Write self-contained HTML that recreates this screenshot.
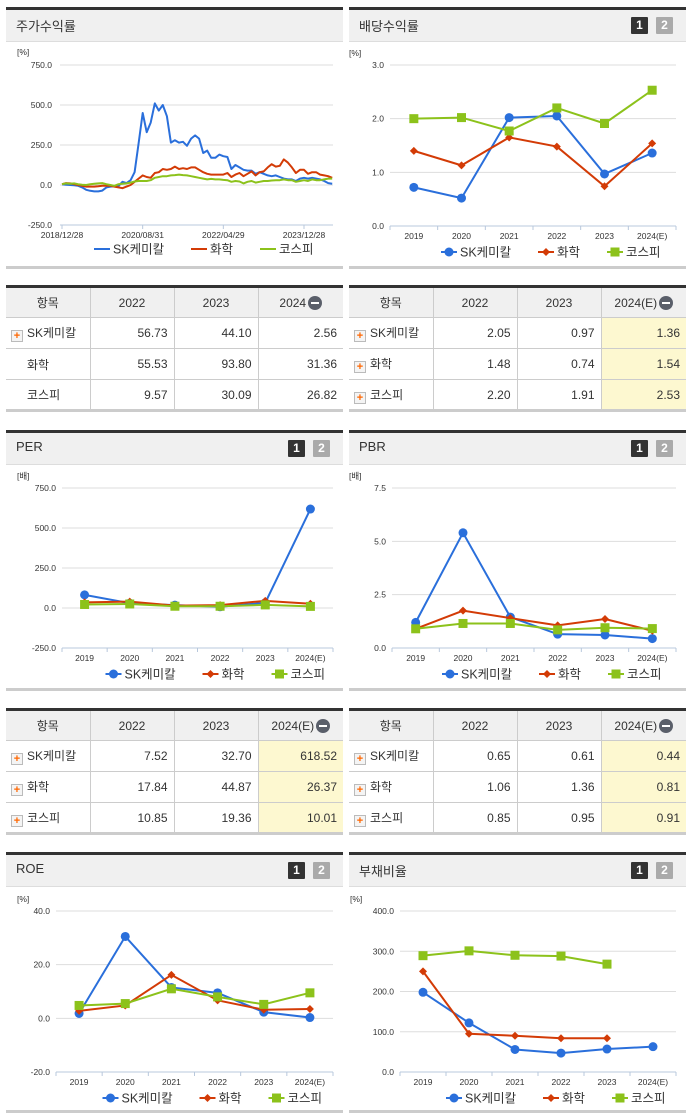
<!DOCTYPE html>
<html><head><meta charset="utf-8">
<style>
*{box-sizing:border-box;margin:0;padding:0}
body{width:691px;height:1115px;background:#fff;position:relative;overflow:hidden;font-family:"Liberation Sans","Noto Sans CJK KR","NanumGothic",sans-serif;color:#333}
.panel{position:absolute;border-top:3px solid #333;border-bottom:3px solid #ccc}
.phead{position:absolute;left:0;right:0;top:0;height:32px;background:#f0f0f0;border-bottom:1px solid #ddd}
.ptitle{position:absolute;left:10px;top:6px;font-size:13px;color:#333}
.btn{position:absolute;top:7px;width:17px;height:17px;font-size:12px;font-weight:bold;color:#fff;text-align:center;line-height:17px;border-radius:1px}
.b1{background:#333}.b2{background:#aaa}
table{position:absolute;border-collapse:collapse;font-size:12px;border-top:3px solid #333;border-bottom:3px solid #ccc;table-layout:fixed}
td,th{border:1px solid #ccc;height:31px;font-weight:normal}
th{background:#f0f0f0;text-align:center}
td{text-align:right;padding-right:6px}
td.l{text-align:left;padding-left:5px}
tr>*:first-child{border-left:none}tr>*:last-child{border-right:none}
.y{background:#fdf8d0}
.pl{display:inline-block;width:12px;height:12px;border:1px solid #bbb;background:#f4f4f4;color:#f60;font-size:11px;line-height:10px;text-align:center;font-weight:bold;vertical-align:-2px;margin-right:4px}
.sp{display:inline-block;width:16px}
.mn{display:inline-block;width:14px;height:14px;border-radius:7px;background:#5a5f6a;vertical-align:-3px;position:relative;margin-left:2px}
.mn:after{content:"";position:absolute;left:3px;top:6px;width:8px;height:2px;background:#fff}
svg{position:absolute;left:0;top:0}
</style></head><body>

<div class="panel" style="left:6px;top:7px;width:337px;height:262px"><div class="phead"><span class="ptitle">주가수익률</span></div></div>
<div class="panel" style="left:349px;top:7px;width:337px;height:262px"><div class="phead"><span class="ptitle">배당수익률</span><span class="btn b1" style="left:282px">1</span><span class="btn b2" style="left:307px">2</span></div></div>
<div class="panel" style="left:6px;top:430px;width:337px;height:261px"><div class="phead"><span class="ptitle">PER</span><span class="btn b1" style="left:282px">1</span><span class="btn b2" style="left:307px">2</span></div></div>
<div class="panel" style="left:349px;top:430px;width:337px;height:261px"><div class="phead"><span class="ptitle">PBR</span><span class="btn b1" style="left:282px">1</span><span class="btn b2" style="left:307px">2</span></div></div>
<div class="panel" style="left:6px;top:852px;width:337px;height:261px"><div class="phead"><span class="ptitle">ROE</span><span class="btn b1" style="left:282px">1</span><span class="btn b2" style="left:307px">2</span></div></div>
<div class="panel" style="left:349px;top:852px;width:337px;height:261px"><div class="phead"><span class="ptitle">부채비율</span><span class="btn b1" style="left:282px">1</span><span class="btn b2" style="left:307px">2</span></div></div>

<table style="left:6px;top:285px;width:337px">
<colgroup><col style="width:84px"><col style="width:84px"><col style="width:84px"><col style="width:85px"></colgroup>
<tr><th>항목</th><th>2022</th><th>2023</th><th>2024<span class="mn"></span></th></tr>
<tr><td class="l"><span class="pl">+</span>SK케미칼</td><td>56.73</td><td>44.10</td><td>2.56</td></tr>
<tr><td class="l"><span class="sp"></span>화학</td><td>55.53</td><td>93.80</td><td>31.36</td></tr>
<tr><td class="l"><span class="sp"></span>코스피</td><td>9.57</td><td>30.09</td><td>26.82</td></tr>
</table>
<table style="left:349px;top:285px;width:337px">
<colgroup><col style="width:84px"><col style="width:84px"><col style="width:84px"><col style="width:85px"></colgroup>
<tr><th>항목</th><th>2022</th><th>2023</th><th>2024(E)<span class="mn"></span></th></tr>
<tr><td class="l"><span class="pl">+</span>SK케미칼</td><td>2.05</td><td>0.97</td><td class="y">1.36</td></tr>
<tr><td class="l"><span class="pl">+</span>화학</td><td>1.48</td><td>0.74</td><td class="y">1.54</td></tr>
<tr><td class="l"><span class="pl">+</span>코스피</td><td>2.20</td><td>1.91</td><td class="y">2.53</td></tr>
</table>
<table style="left:6px;top:708px;width:337px">
<colgroup><col style="width:84px"><col style="width:84px"><col style="width:84px"><col style="width:85px"></colgroup>
<tr><th>항목</th><th>2022</th><th>2023</th><th>2024(E)<span class="mn"></span></th></tr>
<tr><td class="l"><span class="pl">+</span>SK케미칼</td><td>7.52</td><td>32.70</td><td class="y">618.52</td></tr>
<tr><td class="l"><span class="pl">+</span>화학</td><td>17.84</td><td>44.87</td><td class="y">26.37</td></tr>
<tr><td class="l"><span class="pl">+</span>코스피</td><td>10.85</td><td>19.36</td><td class="y">10.01</td></tr>
</table>
<table style="left:349px;top:708px;width:337px">
<colgroup><col style="width:84px"><col style="width:84px"><col style="width:84px"><col style="width:85px"></colgroup>
<tr><th>항목</th><th>2022</th><th>2023</th><th>2024(E)<span class="mn"></span></th></tr>
<tr><td class="l"><span class="pl">+</span>SK케미칼</td><td>0.65</td><td>0.61</td><td class="y">0.44</td></tr>
<tr><td class="l"><span class="pl">+</span>화학</td><td>1.06</td><td>1.36</td><td class="y">0.81</td></tr>
<tr><td class="l"><span class="pl">+</span>코스피</td><td>0.85</td><td>0.95</td><td class="y">0.91</td></tr>
</table>

<svg id="charts" width="691" height="1115"></svg>

<script>
// ---- Stock return chart data (monthly since 2018/12/28) ----
const stockTicks = ["2018/12/28","2020/08/31","2022/04/29","2023/12/28"];
const stockTickMonths = [0,20,40,60];
const stockSK = [4,2,0,-2,-5,-15,-30,-36,-40,-40,-35,-15,-10,-8,-6,20,12,30,80,260,450,330,390,510,465,500,430,265,280,265,270,245,290,310,290,200,215,170,170,190,180,175,100,125,110,95,90,90,70,80,70,60,55,60,50,40,35,35,25,40,45,40,45,40,35,25,12,8];
const stockChem = [5,12,10,5,0,-5,-10,-10,-10,-8,-5,-5,-5,-10,-15,-20,-10,0,20,40,60,50,45,75,80,100,95,100,115,100,105,100,110,110,95,80,70,65,65,65,65,75,50,65,75,55,70,85,60,80,85,110,130,115,120,160,140,110,75,95,95,70,80,80,65,60,55,45];
const stockKospi = [5,10,8,10,5,2,0,5,8,10,12,5,0,-5,5,8,10,15,22,25,25,25,30,45,50,55,55,60,62,65,62,60,55,50,45,40,35,38,35,35,32,30,20,25,22,10,20,25,15,20,25,25,28,30,30,35,30,30,20,25,30,25,35,30,30,35,40,40];

// ---- Category charts ----
const years = ["2019","2020","2021","2022","2023","2024(E)"];
const divSK = [0.72,0.52,2.02,2.05,0.97,1.36];
const divChem = [1.40,1.13,1.65,1.48,0.74,1.54];
const divKospi = [2.00,2.02,1.77,2.20,1.91,2.53];
const divTicks = [0,1,2,3];
const perSK = [82,30,18,7.52,32.7,618.52];
const perChem = [35,40,15,17.84,44.87,26.37];
const perKospi = [22,25,11,10.85,19.36,10.01];
const perTicks = [-250,0,250,500,750];
const pbrSK = [1.2,5.4,1.45,0.65,0.61,0.44];
const pbrChem = [0.9,1.75,1.4,1.06,1.36,0.81];
const pbrKospi = [0.9,1.15,1.15,0.85,0.95,0.91];
const pbrTicks = [0,2.5,5,7.5];
const roeSK = [1.8,30.5,11.5,9.5,2.3,0.3];
const roeChem = [2.8,4.8,16.2,6.7,3.2,3.5];
const roeKospi = [4.8,5.5,11,8,5.2,9.5];
const roeTicks = [-20,0,20,40];
const debtSK = [198,122,56,47,57,63];
const debtChem = [250,95,90,84,84,null];
const debtKospi = [289,301,290,288,268,null];
const debtTicks = [0,100,200,300,400];
const seriesNames = ["SK케미칼","화학","코스피"];

const C = ["#2a6fdb","#d33b06","#8cc21b"];
const svg = document.getElementById('charts');
const NS = "http://www.w3.org/2000/svg";
function el(tag, attrs, parent){const e=document.createElementNS(NS,tag);for(const k in attrs)e.setAttribute(k,attrs[k]);(parent||svg).appendChild(e);return e;}
function txt(x,y,s,attrs,parent){const t=el('text',Object.assign({x:x,y:y,'font-size':'9','fill':'#333','font-family':'"Liberation Sans","Noto Sans CJK KR",sans-serif'},attrs),parent);t.textContent=s;return t;}

function marker(g,i,x,y){
  let m;
  if(i===0){m=el('circle',{cx:x,cy:y,r:4.5,fill:C[0]},g);}
  else if(i===1){m=el('path',{d:`M${x} ${y-4}L${x+4} ${y}L${x} ${y+4}L${x-4} ${y}Z`,fill:C[1]},g);}
  else {m=el('rect',{x:x-4.5,y:y-4.5,width:9,height:9,fill:C[2]},g);}
  return m;
}

function legend(cx,y,withMarkers,name){
  const g=el('g',{});
  
  
  const widths=[70,42,50];
  let x=cx-92;
  seriesNames.forEach((s,i)=>{
    const e=el('g',{},g);
    
    
    el('line',{x1:x,y1:y,x2:x+16,y2:y,stroke:C[i],'stroke-width':2},e);
    if(withMarkers)marker(e,i,x+8,y);
    txt(x+19,y+4.5,s,{'font-size':'12.5'},e);
    x+=19+widths[i]+8;
  });
}

function catChart(o){
  const g=el('g',{});
  
  
  const ys=v=>o.y0+(v-o.min)/(o.max-o.min)*(o.y1-o.y0);
  const bw=(o.x1-o.x0)/years.length;
  const xs=i=>o.x0+bw*(i+0.5);
  txt(o.x0-45+(o.unitDx||0),o.y1-9,o.unit,{'font-size':'8.5'},g);
  o.ticks.forEach(t=>{
    const yy=ys(t);
    if(t!==o.min){const ln=el('line',{x1:o.x0,y1:yy,x2:o.x1,y2:yy,stroke:'#ddd','stroke-width':1},g);}
    txt(o.x0-6,yy+3,t.toFixed(1),{'text-anchor':'end','font-size':'8.5'},g);
  });
  el('line',{x1:o.x0,y1:o.y0,x2:o.x1,y2:o.y0,stroke:'#b8c8dc','stroke-width':1},g);
  for(let i=0;i<=years.length;i++){el('line',{x1:o.x0+bw*i,y1:o.y0,x2:o.x0+bw*i,y2:o.y0+4,stroke:'#b8c8dc'},g);}
  years.forEach((y,i)=>{txt(xs(i),o.y0+13,y,{'text-anchor':'middle','font-size':'8.5'},g);});
  o.series.forEach((arr,si)=>{
    const sg=el('g',{},g);
    
    
    let d='';arr.forEach((v,i)=>{if(v==null)return;d+=(d?'L':'M')+xs(i)+' '+ys(v);});
    el('path',{d:d,fill:'none',stroke:C[si],'stroke-width':2},sg);
    arr.forEach((v,i)=>{if(v==null)return;const m=marker(sg,si,xs(i),ys(v));
      
      });
  });
  legend((o.x0+o.x1)/2,o.y0+26,true,o.name+'-legend');
}

// stock chart
(function(){
  const g=el('g',{});
  
  
  const x0=62,x1=333,pxPerMonth=(304-62)/60;
  const ys=v=>185-v*(120/750);
  const xs=t=>x0+t*pxPerMonth;
  txt(17,55,'[%]',{'font-size':'8.5'},g);
  [-250,0,250,500,750].forEach(t=>{const yy=ys(t);
    if(t!==-250)el('line',{x1:60,y1:yy,x2:x1,y2:yy,stroke:'#ddd'},g);
    txt(52,yy+3,t.toFixed(1),{'text-anchor':'end','font-size':'8.5'},g);});
  el('line',{x1:60,y1:225,x2:x1,y2:225,stroke:'#b8c8dc'},g);
  stockTicks.forEach((s,i)=>{const xx=xs(stockTickMonths[i]);
    el('line',{x1:xx,y1:225,x2:xx,y2:229,stroke:'#b8c8dc'},g);
    txt(xx,238,s,{'text-anchor':'middle','font-size':'8.5'},g);});
  [stockSK,stockChem,stockKospi].forEach((arr,si)=>{
    let d='';arr.forEach((v,i)=>{d+=(i?'L':'M')+xs(i).toFixed(1)+' '+ys(v).toFixed(1);});
    const p=el('path',{d:d,fill:'none',stroke:C[si],'stroke-width':2,'stroke-linejoin':'round'},g);
    
    
  });
  legend(186,249,false,'stock-return-legend');
})();

catChart({name:'dividend-chart',x0:390,x1:676,y0:226,y1:65,min:0,max:3,ticks:divTicks,unit:'[%]',unitDx:4,series:[divSK,divChem,divKospi]});
catChart({name:'per-chart',x0:62,x1:333,y0:648,y1:488,min:-250,max:750,ticks:perTicks,unit:'[배]',unitDx:0,series:[perSK,perChem,perKospi]});
catChart({name:'pbr-chart',x0:392,x1:676,y0:648,y1:488,min:0,max:7.5,ticks:pbrTicks,unit:'[배]',unitDx:2,series:[pbrSK,pbrChem,pbrKospi]});
catChart({name:'roe-chart',x0:56,x1:333,y0:1072,y1:911,min:-20,max:40,ticks:roeTicks,unit:'[%]',unitDx:6,series:[roeSK,roeChem,roeKospi]});
catChart({name:'debt-chart',x0:400,x1:676,y0:1072,y1:911,min:0,max:400,ticks:debtTicks,unit:'[%]',unitDx:-5,series:[debtSK,debtChem,debtKospi]});
</script>
</body></html>
